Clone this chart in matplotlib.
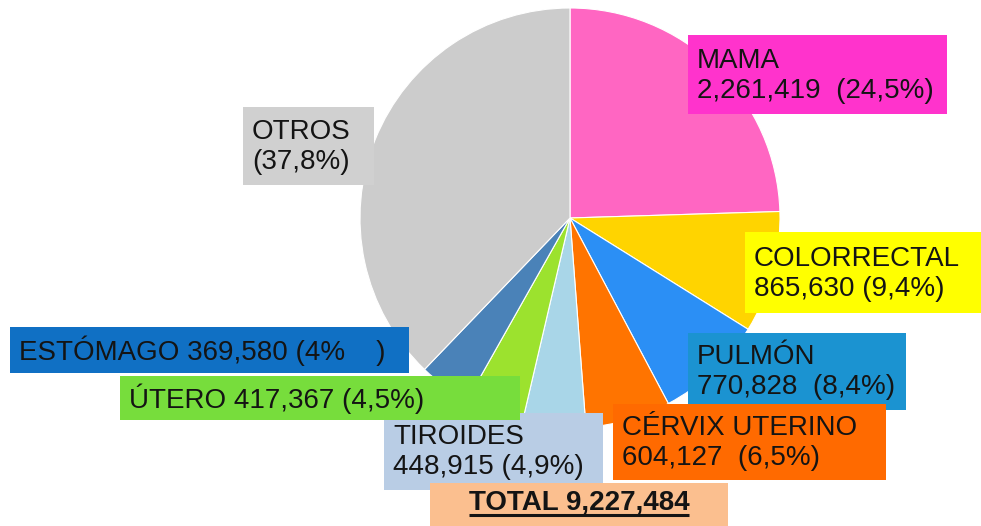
import matplotlib.pyplot as plt
from matplotlib.patches import Rectangle

plt.rcParams['font.family'] = ['Liberation Sans', 'DejaVu Sans']

# datos (orden horario desde las 12)
sitios = ['MAMA', 'COLORRECTAL', 'PULMÓN', 'CÉRVIX UTERINO', 'TIROIDES', 'ÚTERO', 'ESTÓMAGO', 'OTROS']
casos = [2261419, 865630, 770828, 604127, 448915, 417367, 369580, 3489618]
pct = ['24,5%', '9,4%', '8,4%', '6,5%', '4,9%', '4,5%', '4%    ', '37,8%']
total = 9227484

colores_pie = ['#ff66c2', '#ffd400', '#2b8ff5', '#ff7400', '#a9d6e8', '#9ce22e', '#4a82b8', '#cccccc']
colores_caja = ['#ff33cc', '#ffff00', '#1b93d1', '#ff6a00', '#b9cde5', '#77dd3c', '#1070c4', '#d0d0d0']

def fmt(n):
    return f'{n:,}'

etiquetas = [
    f'{sitios[0]}\n{fmt(casos[0])}  ({pct[0]})',
    f'{sitios[1]}\n{fmt(casos[1])} ({pct[1]})',
    f'{sitios[2]}\n{fmt(casos[2])}  ({pct[2]})',
    f'{sitios[3]}\n{fmt(casos[3])}  ({pct[3]})',
    f'{sitios[4]}\n{fmt(casos[4])} ({pct[4]})',
    f'{sitios[5]} {fmt(casos[5])} ({pct[5]})',
    f'{sitios[6]} {fmt(casos[6])} ({pct[6]})',
    f'{sitios[7]}\n({pct[7]})',
]

# cajas en pixeles (x0, y0, x1, y1) con y hacia abajo
cajas = [
    (688, 35, 947, 114),
    (745, 232, 981, 313),
    (688, 333, 906, 410),
    (613, 404, 886, 480),
    (384, 413, 603, 490),
    (120, 376, 520, 420),
    (10, 327, 409, 373),
    (243, 107, 374, 185),
]
zs = [3, 3, 3, 4, 3, 5, 3, 3]

W, H = 981, 526
fig = plt.figure(figsize=(W / 100, H / 100), dpi=100)
ax = fig.add_axes([0, 0, 1, 1])

ax.pie(casos, center=(570, H - 218), radius=210, startangle=90, counterclock=False,
       colors=colores_pie, wedgeprops=dict(edgecolor='white', linewidth=0.8))

ax.set_xlim(0, W)
ax.set_ylim(0, H)
ax.set_aspect('auto')
ax.axis('off')

for i in range(len(sitios)):
    x0, y0, x1, y1 = cajas[i]
    ax.add_patch(Rectangle((x0, H - y1), x1 - x0, y1 - y0, facecolor=colores_caja[i],
                           edgecolor='none', zorder=zs[i]))
    ax.text(x0 + 9, H - (y0 + y1) / 2 - 1, etiquetas[i], ha='left', va='center',
            fontsize=20, color='#141414', linespacing=1.2, zorder=zs[i] + 0.5)

# total
ax.add_patch(Rectangle((430, 0), 298, H - 483, facecolor='#fbbf8f', edgecolor='none', zorder=6))
t = ax.text(579, H - 503, f'TOTAL {fmt(total)}', ha='center', va='center', fontsize=20,
            fontweight='bold', color='#141414', zorder=7)
fig.canvas.draw()
bb = t.get_window_extent().transformed(ax.transData.inverted())
ax.plot([bb.x0, bb.x1], [bb.y0 + 1, bb.y0 + 1], color='#141414', lw=2.2, zorder=7,
        solid_capstyle='butt')

fig.savefig('out.png', dpi=100)
